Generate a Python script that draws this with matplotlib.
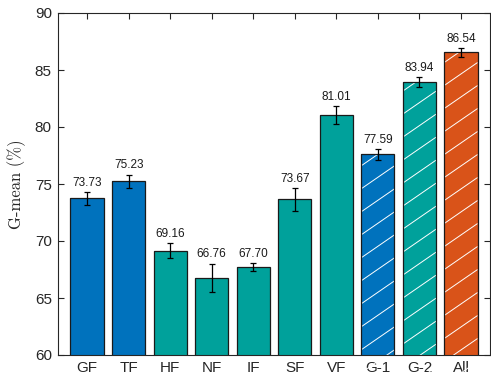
import numpy as np
import matplotlib
matplotlib.use("Agg")
import matplotlib.pyplot as plt

# Data
categories = ["GF", "TF", "HF", "NF", "IF", "SF", "VF", "G-1", "G-2", "All"]
gmean = [73.73, 75.23, 69.16, 66.76, 67.70, 73.67, 81.01, 77.59, 83.94, 86.54]
gmean_err = [0.55, 0.59, 0.67, 1.26, 0.35, 1.00, 0.79, 0.50, 0.41, 0.39]
groups = ["blue", "blue", "teal", "teal", "teal", "teal", "teal", "blue", "teal", "orange"]
hatched = [False] * 7 + [True] * 3

palette = {"blue": "#0072BD", "teal": "#00A19B", "orange": "#D95319"}
axis_color = "#262626"

plt.rcParams["font.family"] = ["Liberation Sans", "DejaVu Sans"]

W, H = 491, 377
fig = plt.figure(figsize=(W / 100, H / 100), dpi=100)
ax_l, ax_b, ax_w, ax_h = 58 / W, 22 / H, 432 / W, 342 / H
ax = fig.add_axes([ax_l, ax_b, ax_w, ax_h])

x = np.arange(1, len(categories) + 1)
xlim = (0.3, 10.7)
ylim = (60, 90)
ax.set_xlim(*xlim)
ax.set_ylim(*ylim)

bar_w = 0.8
colors = [palette[g] for g in groups]

# bar faces
faces = ax.bar(x, gmean, width=bar_w, color=colors, edgecolor="none", zorder=2)

# diagonal white hatching, drawn in data space with a fixed on-screen slope
px_per_x = ax_w * W / (xlim[1] - xlim[0])
px_per_y = ax_h * H / (ylim[1] - ylim[0])
slope = 0.69 * px_per_x / px_per_y
spacing = 23 / px_per_y
for rect, h in zip(faces, hatched):
    if not h:
        continue
    x0 = rect.get_x()
    x1 = x0 + rect.get_width()
    top = rect.get_height()
    k_lo = int(np.floor((ylim[0] - slope * x1) / spacing)) - 1
    k_hi = int(np.ceil((top - slope * x0) / spacing)) + 1
    for k in range(k_lo, k_hi + 1):
        c = 1.0 + k * spacing
        ln, = ax.plot([x0, x1], [c + slope * x0, c + slope * x1],
                      color="white", lw=0.7, zorder=2.5, solid_capstyle="butt")
        ln.set_clip_path(rect)

# bar outlines
ax.bar(x, gmean, width=bar_w, fill=False, edgecolor="#1a1a1a", linewidth=0.9, zorder=3)

# error bars
ax.errorbar(x, gmean, yerr=gmean_err, fmt="none", ecolor="black",
            elinewidth=0.9, capsize=2.5, capthick=0.9, zorder=4)

# value labels
for xi, v, e in zip(x, gmean, gmean_err):
    ax.annotate(f"{v:.2f}", (xi, v + e), xytext=(0, 4.5), textcoords="offset points",
                ha="center", va="baseline", fontsize=8.5, color="#1a1a1a",
                family=["Liberation Sans", "DejaVu Sans"])

ax.set_xticks(x)
ax.set_xticklabels(categories)
ax.set_yticks(np.arange(60, 91, 5))
ax.tick_params(axis="both", direction="in", length=4, width=0.8, colors=axis_color,
               labelsize=11, pad=4.5, top=True, right=True)
for s in ax.spines.values():
    s.set_color(axis_color)
    s.set_linewidth(0.8)

ax.set_ylabel("G-mean (%)", family="cmr10", fontsize=12, color=axis_color, labelpad=6)

fig.savefig("out.png", dpi=100)
